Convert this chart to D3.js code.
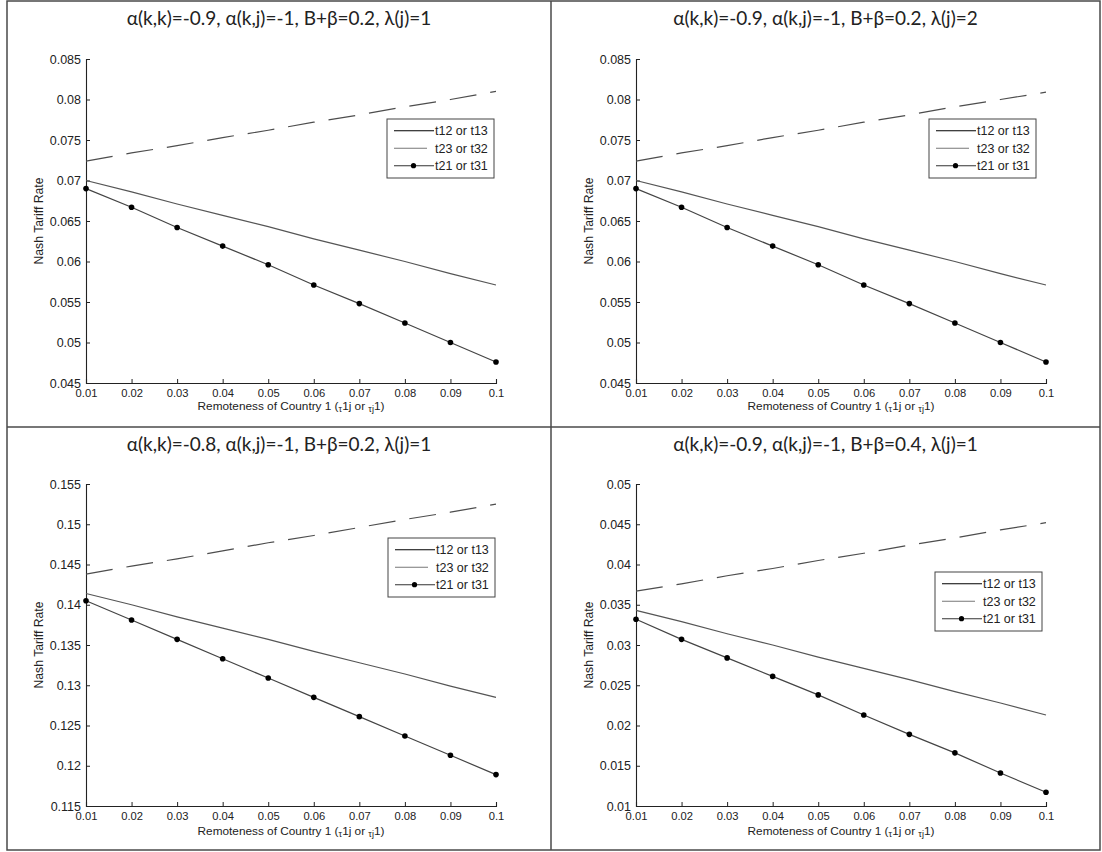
<!DOCTYPE html>
<html>
<head>
<meta charset="utf-8">
<script src="https://cdn.jsdelivr.net/npm/d3@7"></script>
<style>
  html, body { margin: 0; padding: 0; background: #fff; }
  svg { display: block; }
  .tick-label { font-family: "Liberation Sans", Arial, sans-serif; fill: #222; }
  .axis-title { font-family: "Liberation Sans", Arial, sans-serif; fill: #222; }
  .panel-title { font-family: Lato, "Open Sans", sans-serif; font-size: 19px; fill: #222; }
  .legend-text { font-family: "Liberation Sans", Arial, sans-serif; font-size: 12.5px; fill: #222; }
</style>
</head>
<body>
<script>
// Remoteness of country 1 (x grid shared by every panel)
const remoteness = [0.01, 0.02, 0.03, 0.04, 0.05, 0.06, 0.07, 0.08, 0.09, 0.1];
const xTickValues = [0.01, 0.02, 0.03, 0.04, 0.05, 0.06, 0.07, 0.08, 0.09, 0.1];

const seriesNames = ["t12 or t13", "t23 or t32", "t21 or t31"];

const panelTitles = [
  "α(k,k)=-0.9, α(k,j)=-1, B+β=0.2, λ(j)=1",
  "α(k,k)=-0.9, α(k,j)=-1, B+β=0.2, λ(j)=2",
  "α(k,k)=-0.8, α(k,j)=-1, B+β=0.2, λ(j)=1",
  "α(k,k)=-0.9, α(k,j)=-1, B+β=0.4, λ(j)=1"
];

// Y axis tick values per panel
const yTicksA = [0.045, 0.05, 0.055, 0.06, 0.065, 0.07, 0.075, 0.08, 0.085];
const yTicksB = [0.045, 0.05, 0.055, 0.06, 0.065, 0.07, 0.075, 0.08, 0.085];
const yTicksC = [0.115, 0.12, 0.125, 0.13, 0.135, 0.14, 0.145, 0.15, 0.155];
const yTicksD = [0.01, 0.015, 0.02, 0.025, 0.03, 0.035, 0.04, 0.045, 0.05];

// Nash tariff rates, panel A
const t12A = [0.0724, 0.0734, 0.0743, 0.0753, 0.0762, 0.0772, 0.0781, 0.0791, 0.0800, 0.0810];
const t23A = [0.0700, 0.0686, 0.0671, 0.0657, 0.0643, 0.0628, 0.0614, 0.0600, 0.0585, 0.0571];
const t21A = [0.0690, 0.0667, 0.0642, 0.0619, 0.0596, 0.0571, 0.0548, 0.0524, 0.0500, 0.0476];

// Panel B
const t12B = [0.0724, 0.0734, 0.0743, 0.0753, 0.0762, 0.0772, 0.0781, 0.0791, 0.0800, 0.0809];
const t23B = [0.0700, 0.0686, 0.0671, 0.0657, 0.0643, 0.0628, 0.0614, 0.0600, 0.0585, 0.0571];
const t21B = [0.0690, 0.0667, 0.0642, 0.0619, 0.0596, 0.0571, 0.0548, 0.0524, 0.0500, 0.0476];

// Panel C
const t12C = [0.1438, 0.1448, 0.1457, 0.1467, 0.1477, 0.1486, 0.1496, 0.1506, 0.1515, 0.1525];
const t23C = [0.1414, 0.1400, 0.1385, 0.1371, 0.1357, 0.1342, 0.1328, 0.1314, 0.1299, 0.1285];
const t21C = [0.1405, 0.1381, 0.1357, 0.1333, 0.1309, 0.1285, 0.1261, 0.1237, 0.1213, 0.1189];

// Panel D
const t12D = [0.0367, 0.0376, 0.0386, 0.0395, 0.0405, 0.0414, 0.0424, 0.0433, 0.0443, 0.0452];
const t23D = [0.0343, 0.0329, 0.0314, 0.0300, 0.0285, 0.0271, 0.0257, 0.0242, 0.0228, 0.0213];
const t21D = [0.0332, 0.0307, 0.0284, 0.0261, 0.0238, 0.0213, 0.0189, 0.0166, 0.0141, 0.0117];

const W = 1102, H = 852;

// Panel geometry: cell box, plot area, legend placement, x-title offset
const panels = [
  { title: panelTitles[0], yTicks: yTicksA, series: [t12A, t23A, t21A],
    cell: [7, 1, 551, 427], plot: [86, 496, 59, 383], legend: [387, 119], xTitleGap: 27 },
  { title: panelTitles[1], yTicks: yTicksB, series: [t12B, t23B, t21B],
    cell: [551, 1, 1100, 427], plot: [636, 1046, 59, 383], legend: [929, 119], xTitleGap: 27 },
  { title: panelTitles[2], yTicks: yTicksC, series: [t12C, t23C, t21C],
    cell: [7, 427, 551, 850], plot: [86, 496, 484, 806], legend: [388, 538], xTitleGap: 29 },
  { title: panelTitles[3], yTicks: yTicksD, series: [t12D, t23D, t21D],
    cell: [551, 427, 1100, 850], plot: [636, 1046, 484, 806], legend: [935, 572], xTitleGap: 29 }
];

const svg = d3.select("body").append("svg")
  .attr("width", W).attr("height", H)
  .attr("viewBox", `0 0 ${W} ${H}`);

// Table frame around the four panels
const frame = svg.append("g").attr("stroke", "#4a4a4a").attr("stroke-width", 1.5).attr("fill", "none");
frame.append("rect").attr("x", 7).attr("y", 1).attr("width", 1093).attr("height", 849);
frame.append("line").attr("x1", 551).attr("x2", 551).attr("y1", 1).attr("y2", 850);
frame.append("line").attr("x1", 7).attr("x2", 1100).attr("y1", 427).attr("y2", 427);

const fmt = d3.format("");

panels.forEach(p => {
  const [x0, x1, yT, yB] = p.plot;
  const ticks = p.yTicks;
  const x = d3.scaleLinear().domain([remoteness[0], remoteness[remoteness.length - 1]]).range([x0, x1]);
  const y = d3.scaleLinear().domain([ticks[0], ticks[ticks.length - 1]]).range([yB, yT]);
  const g = svg.append("g");
  const cx = (p.cell[0] + p.cell[2]) / 2;

  // Title
  g.append("text").attr("class", "panel-title")
    .attr("x", cx).attr("y", p.cell[1] + 24)
    .attr("text-anchor", "middle").text(p.title);

  // Axes with inward ticks
  const xAxis = d3.axisBottom(x).tickValues(xTickValues).tickSize(-4).tickPadding(3).tickFormat(fmt);
  const yAxis = d3.axisLeft(y).tickValues(ticks).tickSize(-4).tickPadding(5).tickFormat(fmt);

  const gx = g.append("g").attr("transform", `translate(0,${yB})`).call(xAxis);
  const gy = g.append("g").attr("transform", `translate(${x0},0)`).call(yAxis);
  [gx, gy].forEach(ax => {
    ax.attr("font-family", null).attr("font-size", null);
    ax.select(".domain").attr("stroke", "#222").attr("stroke-width", 1.1);
    ax.selectAll(".tick line").attr("stroke", "#222").attr("stroke-width", 1);
    ax.selectAll(".tick text").attr("class", "tick-label").attr("fill", "#222");
  });
  gx.selectAll(".tick text").attr("font-size", 11.2).attr("dy", null).attr("y", 13.5);
  gy.selectAll(".tick text").attr("font-size", 12.5);

  // Axis titles
  const xl = g.append("text").attr("class", "axis-title").attr("font-size", 11.8)
    .attr("x", (x0 + x1) / 2).attr("y", yB + p.xTitleGap).attr("text-anchor", "middle");
  xl.append("tspan").text("Remoteness of Country 1 (");
  xl.append("tspan").attr("font-size", 9).attr("dy", 2).text("τ");
  xl.append("tspan").attr("dy", -2).text("1j or ");
  xl.append("tspan").attr("font-size", 9).attr("dy", 2).text("τ");
  xl.append("tspan").attr("font-size", 9).text("j");
  xl.append("tspan").attr("dy", -2).text("1)");

  g.append("text").attr("class", "axis-title").attr("font-size", 12.2)
    .attr("transform", `translate(${x0 - 43},${(yT + yB) / 2}) rotate(-90)`)
    .attr("text-anchor", "middle").text("Nash Tariff Rate");

  const line = d3.line().x((d, i) => x(remoteness[i])).y(d => y(d));

  // t12 / t13: long-dashed line
  g.append("path").datum(p.series[0]).attr("d", line)
    .attr("fill", "none").attr("stroke", "#4d4d4d").attr("stroke-width", 1.2)
    .attr("stroke-dasharray", "27,14");
  // t23 / t32: solid gray line
  g.append("path").datum(p.series[1]).attr("d", line)
    .attr("fill", "none").attr("stroke", "#555").attr("stroke-width", 1.2);
  // t21 / t31: line with dot markers
  g.append("path").datum(p.series[2]).attr("d", line)
    .attr("fill", "none").attr("stroke", "#444").attr("stroke-width", 1.2);
  g.selectAll("circle.pt").data(p.series[2]).join("circle")
    .attr("class", "pt")
    .attr("cx", (d, i) => x(remoteness[i])).attr("cy", d => y(d))
    .attr("r", 2.8).attr("fill", "#000");

  // Legend
  const [lx, ly] = p.legend;
  const lg = g.append("g").attr("transform", `translate(${lx},${ly})`);
  lg.append("rect").attr("x", 0).attr("y", 0).attr("width", 107).attr("height", 59)
    .attr("fill", "#fff").attr("stroke", "#444").attr("stroke-width", 1);
  const rows = [
    { name: seriesNames[0], color: "#000", x2: 47, dot: false },
    { name: seriesNames[1], color: "#777", x2: 40, dot: false },
    { name: seriesNames[2], color: "#333", x2: 47, dot: true }
  ];
  rows.forEach((r, i) => {
    const ry = 11.7 + i * 17.5;
    lg.append("line").attr("x1", 7).attr("x2", r.x2).attr("y1", ry).attr("y2", ry)
      .attr("stroke", r.color).attr("stroke-width", 1.1);
    if (r.dot) lg.append("circle").attr("cx", 26.5).attr("cy", ry).attr("r", 2.6).attr("fill", "#000");
    lg.append("text").attr("class", "legend-text")
      .attr("x", 48).attr("y", ry + 4.5).text(r.name);
  });
});
</script>
</body>
</html>
